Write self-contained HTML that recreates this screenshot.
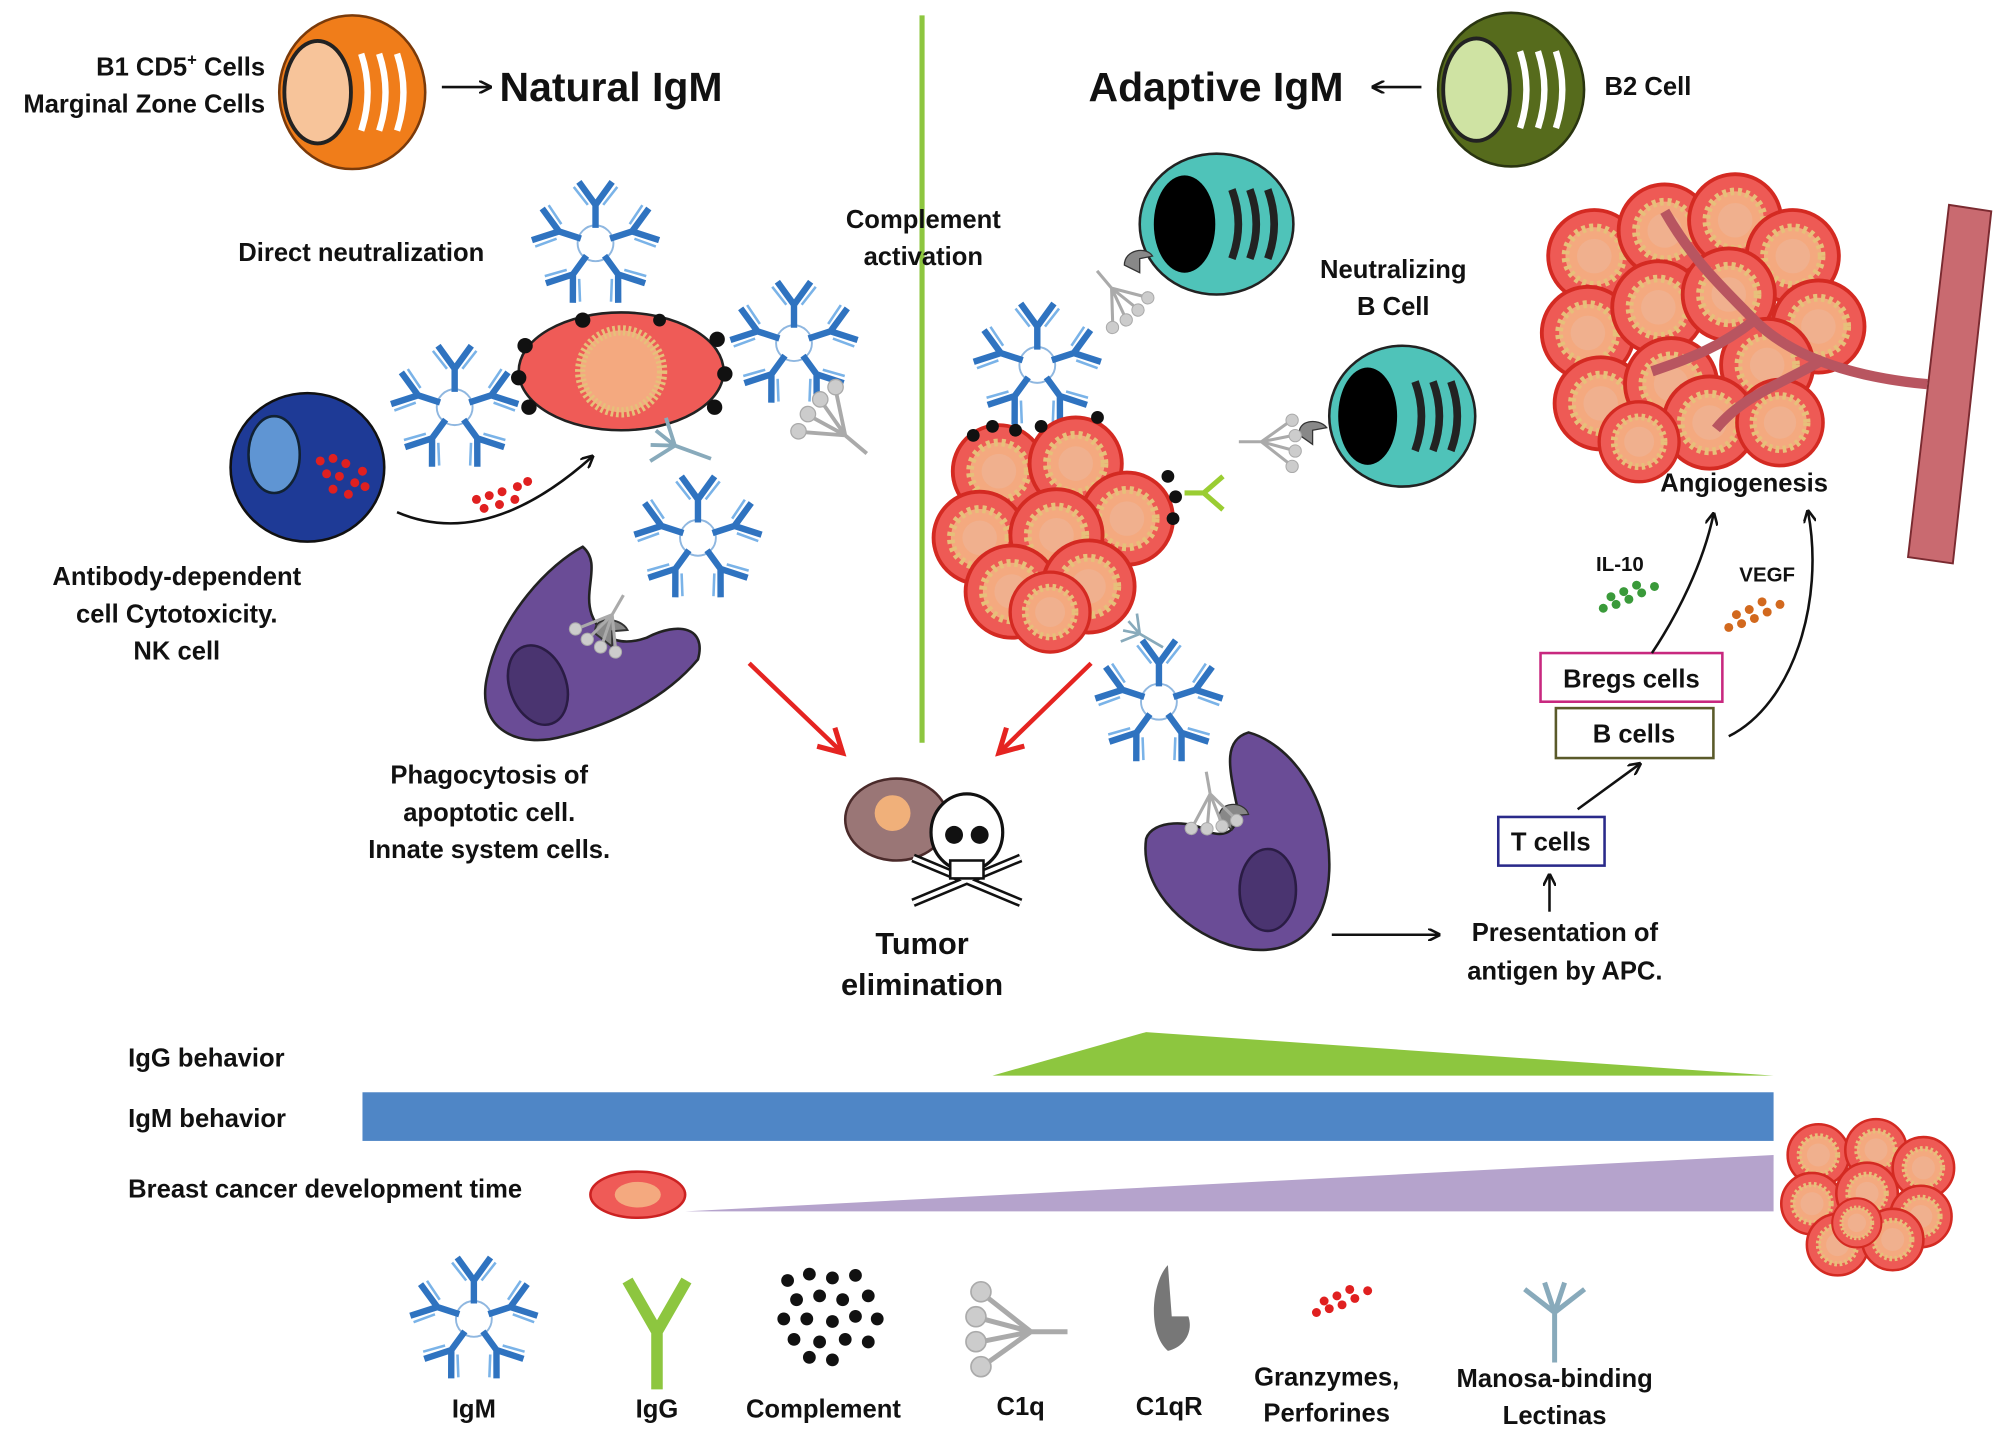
<!DOCTYPE html>
<html><head><meta charset="utf-8"><style>
html,body{margin:0;padding:0;background:#fff;}
svg{display:block;}
text{font-family:"Liberation Sans",sans-serif;font-weight:bold;fill:#111;}
</style></head><body>
<svg width="2008" height="1438" viewBox="0 0 1568 1123" xmlns="http://www.w3.org/2000/svg">
<defs>
<marker id="ah" markerWidth="10" markerHeight="10" refX="8" refY="5" orient="auto" markerUnits="userSpaceOnUse"><path d="M0,0 L10,5 L0,10" fill="none" stroke="#111" stroke-width="2"/></marker>
<marker id="ahr" markerWidth="24" markerHeight="24" refX="20" refY="12" orient="auto" markerUnits="userSpaceOnUse"><path d="M2,2 L20,12 L2,22" fill="none" stroke="#e52421" stroke-width="4"/></marker>
<g id="ab">
<path d="M0,-12 V-30 M0,-30 L-13,-48 M0,-30 L13,-48" stroke="#2f73c0" stroke-width="5" fill="none"/>
<path d="M-6,-30 L-17,-44 M6,-30 L17,-44" stroke="#7ab3e8" stroke-width="2" fill="none"/>
</g>
<g id="igm">
<circle r="14" fill="none" stroke="#8fb7e0" stroke-width="1.5"/>
<use href="#ab"/><use href="#ab" transform="rotate(72)"/><use href="#ab" transform="rotate(144)"/><use href="#ab" transform="rotate(216)"/><use href="#ab" transform="rotate(288)"/>
</g>
<g id="rc">
<circle r="24" fill="#ee5a55" stroke="#d42a22" stroke-width="2"/>
<circle r="15" fill="#f4a97f" stroke="#e6c07a" stroke-width="4" stroke-dasharray="2 2"/>
<circle r="9" fill="#f0b08e"/>
</g>
<g id="c1q" stroke="#aaa" fill="#ccc">
<path d="M0,0 L-28,-22 M0,0 L-30,-8 M0,0 L-30,6 M0,0 L-28,20 M0,0 L22,0" stroke-width="3"/>
<circle cx="-30" cy="-24" r="6"/><circle cx="-33" cy="-9" r="6"/><circle cx="-33" cy="6" r="6"/><circle cx="-30" cy="21" r="6"/>
</g>
<g id="mbl" stroke="#8ab" fill="none" stroke-width="3">
<path d="M0,30 V0 M0,0 L-18,-14 M0,0 L-6,-18 M0,0 L6,-18 M0,0 L18,-14"/>
</g>
</defs>

<!-- divider -->
<line x1="720" y1="12" x2="720" y2="580" stroke="#8dc63f" stroke-width="4"/>

<!-- top left -->
<text x="207" y="59" font-size="20" text-anchor="end">B1 CD5<tspan font-size="13" dy="-8">+</tspan><tspan dy="8"> Cells</tspan></text>
<text x="207" y="88" font-size="20" text-anchor="end">Marginal Zone Cells</text>
<ellipse cx="275" cy="72" rx="57" ry="60" fill="#f07d1a" stroke="#7a3a0a" stroke-width="2"/>
<ellipse cx="248" cy="72" rx="26" ry="40" fill="#f7c49a" stroke="#222" stroke-width="3"/>
<path d="M282,42 Q292,72 282,102 M296,42 Q306,72 296,102 M310,42 Q320,72 310,102" stroke="#fff" stroke-width="5" fill="none"/>
<line x1="345" y1="68" x2="382" y2="68" stroke="#111" stroke-width="2" marker-end="url(#ah)"/>
<text x="390" y="79" font-size="32">Natural IgM</text>

<!-- top right -->
<text x="850" y="79" font-size="32">Adaptive IgM</text>
<line x1="1110" y1="68" x2="1073" y2="68" stroke="#111" stroke-width="2" marker-end="url(#ah)"/>
<ellipse cx="1180" cy="70" rx="57" ry="60" fill="#566b1c" stroke="#2a3510" stroke-width="2"/>
<ellipse cx="1153" cy="70" rx="26" ry="40" fill="#cfe3a3" stroke="#222" stroke-width="3"/>
<path d="M1187,40 Q1197,70 1187,100 M1201,40 Q1211,70 1201,100 M1215,40 Q1225,70 1215,100" stroke="#fff" stroke-width="5" fill="none"/>
<text x="1253" y="74" font-size="20">B2 Cell</text>

<text x="186" y="204" font-size="20">Direct neutralization</text>
<text x="721" y="178" font-size="20" text-anchor="middle">Complement</text>
<text x="721" y="207" font-size="20" text-anchor="middle">activation</text>

<!-- left tumor cell -->
<ellipse cx="485" cy="290" rx="80" ry="46" fill="#ef5b57" stroke="#222" stroke-width="2"/>
<circle cx="485" cy="290" r="32" fill="#f4a97f" stroke="#e6c07a" stroke-width="8" stroke-dasharray="2 2"/>
<g fill="#111"><circle cx="410" cy="270" r="6"/><circle cx="405" cy="295" r="6"/><circle cx="413" cy="318" r="6"/><circle cx="560" cy="265" r="6"/><circle cx="566" cy="292" r="6"/><circle cx="558" cy="318" r="6"/><circle cx="455" cy="250" r="6"/><circle cx="515" cy="250" r="5"/></g>
<use href="#igm" x="465" y="190"/>
<use href="#igm" x="355" y="318"/>
<use href="#igm" x="620" y="268"/>
<use href="#igm" x="545" y="420"/>
<use href="#c1q" transform="translate(660,340) rotate(40)"/>
<use href="#mbl" transform="translate(527,348) rotate(-70)"/>

<!-- NK -->
<ellipse cx="240" cy="365" rx="60" ry="58" fill="#1e3a96" stroke="#111" stroke-width="2"/>
<ellipse cx="214" cy="355" rx="20" ry="30" fill="#5f95d3" stroke="#123" stroke-width="2"/>
<g fill="#e02020"><circle cx="250" cy="360" r="3.5"/><circle cx="260" cy="358" r="3.5"/><circle cx="270" cy="362" r="3.5"/><circle cx="283" cy="368" r="3.5"/><circle cx="255" cy="370" r="3.5"/><circle cx="265" cy="372" r="3.5"/><circle cx="277" cy="377" r="3.5"/><circle cx="260" cy="382" r="3.5"/><circle cx="272" cy="386" r="3.5"/><circle cx="285" cy="380" r="3.5"/>
<circle cx="372" cy="390" r="3.5"/><circle cx="382" cy="387" r="3.5"/><circle cx="392" cy="384" r="3.5"/><circle cx="404" cy="380" r="3.5"/><circle cx="378" cy="397" r="3.5"/><circle cx="390" cy="394" r="3.5"/><circle cx="402" cy="390" r="3.5"/><circle cx="412" cy="376" r="3.5"/></g>
<path d="M310,400 Q380,430 462,357" fill="none" stroke="#111" stroke-width="2" marker-end="url(#ah)"/>
<text x="138" y="457" font-size="20" text-anchor="middle">Antibody-dependent</text>
<text x="138" y="486" font-size="20" text-anchor="middle">cell Cytotoxicity.</text>
<text x="138" y="515" font-size="20" text-anchor="middle">NK cell</text>

<!-- left macrophage -->
<path d="M455,427 C430,440 390,480 380,530 C372,570 405,585 440,575 C480,565 520,545 545,515 C552,490 530,485 505,498 C485,505 470,500 462,480 C455,460 470,440 455,427 Z" fill="#6a4c96" stroke="#222" stroke-width="2"/>
<ellipse cx="420" cy="535" rx="22" ry="32" transform="rotate(-20 420 535)" fill="#4a3470" stroke="#2a1c44" stroke-width="2"/>
<path d="M465,495 C462,480 485,482 490,492 L478,493 L478,505 Z" fill="#888" stroke="#333" stroke-width="1.5"/>
<use href="#c1q" transform="translate(478,480) rotate(-60) scale(0.8)"/>
<text x="382" y="612" font-size="20" text-anchor="middle">Phagocytosis of</text>
<text x="382" y="641" font-size="20" text-anchor="middle">apoptotic cell.</text>
<text x="382" y="670" font-size="20" text-anchor="middle">Innate system cells.</text>

<!-- red arrows -->
<line x1="585" y1="518" x2="658" y2="588" stroke="#e52421" stroke-width="3.5" marker-end="url(#ahr)"/>
<line x1="852" y1="518" x2="780" y2="588" stroke="#e52421" stroke-width="3.5" marker-end="url(#ahr)"/>

<!-- tumor elimination -->
<ellipse cx="700" cy="640" rx="40" ry="32" fill="#9a7676" stroke="#4a2a2a" stroke-width="2"/>
<circle cx="697" cy="635" r="14" fill="#f0b07a"/>
<ellipse cx="755" cy="650" rx="28" ry="30" fill="#fff" stroke="#111" stroke-width="2.5"/>
<circle cx="745" cy="652" r="7" fill="#111"/><circle cx="765" cy="652" r="7" fill="#111"/>
<path d="M713,670 L797,705 M797,670 L713,705" stroke="#111" stroke-width="7"/>
<path d="M713,670 L797,705 M797,670 L713,705" stroke="#fff" stroke-width="3"/>
<rect x="742" y="672" width="26" height="14" fill="#fff" stroke="#111" stroke-width="2"/>
<text x="720" y="745" font-size="24" text-anchor="middle">Tumor</text>
<text x="720" y="777" font-size="24" text-anchor="middle">elimination</text>

<!-- teal B cells -->
<ellipse cx="950" cy="175" rx="60" ry="55" fill="#4fc3b9" stroke="#222" stroke-width="2"/>
<ellipse cx="925" cy="175" rx="24" ry="38" fill="#000"/>
<path d="M962,148 Q972,175 962,202 M976,148 Q986,175 976,202 M990,148 Q1000,175 990,202" stroke="#222" stroke-width="6" fill="none"/>
<ellipse cx="1095" cy="325" rx="57" ry="55" fill="#4fc3b9" stroke="#222" stroke-width="2"/>
<ellipse cx="1068" cy="325" rx="23" ry="38" fill="#000"/>
<path d="M1105,298 Q1115,325 1105,352 M1119,298 Q1129,325 1119,352 M1133,298 Q1143,325 1133,352" stroke="#222" stroke-width="6" fill="none"/>
<path d="M878,207 C878,195 895,192 900,200 L890,202 L890,213 Z" fill="#888" stroke="#333"/>
<use href="#c1q" transform="translate(868,225) rotate(-130) scale(0.8)"/>
<path d="M1015,340 C1012,328 1030,326 1036,334 L1025,336 L1025,347 Z" fill="#888" stroke="#333"/>
<use href="#c1q" transform="translate(985,345) rotate(180) scale(0.8)"/>
<text x="1088" y="217" font-size="20" text-anchor="middle">Neutralizing</text>
<text x="1088" y="246" font-size="20" text-anchor="middle">B Cell</text>
<use href="#igm" x="810" y="285"/>

<!-- right cluster -->
<g transform="translate(0,0)">
<use href="#rc" transform="translate(780,368) scale(1.5)"/>
<use href="#rc" transform="translate(840,362) scale(1.5)"/>
<use href="#rc" transform="translate(765,420) scale(1.5)"/>
<use href="#rc" transform="translate(880,405) scale(1.5)"/>
<use href="#rc" transform="translate(825,418) scale(1.5)"/>
<use href="#rc" transform="translate(790,462) scale(1.5)"/>
<use href="#rc" transform="translate(850,458) scale(1.5)"/>
<use href="#rc" transform="translate(820,478) scale(1.3)"/>
</g>
<g fill="#111"><circle cx="760" cy="340" r="5"/><circle cx="775" cy="333" r="5"/><circle cx="793" cy="336" r="5"/><circle cx="813" cy="333" r="5"/><circle cx="857" cy="326" r="5"/><circle cx="912" cy="372" r="5"/><circle cx="918" cy="388" r="5"/><circle cx="916" cy="405" r="5"/></g>
<path d="M925,385 L940,385 M940,385 L955,372 M940,385 L955,398" stroke="#9acd32" stroke-width="4" fill="none"/>
<use href="#mbl" transform="translate(890,495) rotate(-60) scale(0.7)"/>
<use href="#igm" x="905" y="548"/>

<!-- right macrophage -->
<path d="M975,572 C1005,580 1040,620 1038,680 C1036,735 1000,750 960,738 C920,725 890,690 895,655 C900,640 930,640 945,650 C960,655 970,645 965,625 C960,600 955,578 975,572 Z" fill="#6a4c96" stroke="#222" stroke-width="2"/>
<ellipse cx="990" cy="695" rx="22" ry="32" fill="#4a3470" stroke="#2a1c44" stroke-width="2"/>
<path d="M952,640 C950,625 972,625 975,636 L962,637 L962,648 Z" fill="#888" stroke="#333"/>
<use href="#c1q" transform="translate(945,620) rotate(-100) scale(0.8)"/>
<line x1="1040" y1="730" x2="1123" y2="730" stroke="#111" stroke-width="2" marker-end="url(#ah)"/>
<text x="1222" y="735" font-size="20" text-anchor="middle">Presentation of</text>
<text x="1222" y="765" font-size="20" text-anchor="middle">antigen by APC.</text>

<!-- T/B cells -->
<line x1="1210" y1="712" x2="1210" y2="684" stroke="#111" stroke-width="2" marker-end="url(#ah)"/>
<rect x="1170" y="638" width="83" height="38" fill="#fff" stroke="#2a2a8a" stroke-width="2"/>
<text x="1211" y="664" font-size="20" text-anchor="middle">T cells</text>
<line x1="1232" y1="632" x2="1280" y2="597" stroke="#111" stroke-width="2" marker-end="url(#ah)"/>
<rect x="1215" y="553" width="123" height="39" fill="#fff" stroke="#5a5a2a" stroke-width="2"/>
<text x="1276" y="580" font-size="20" text-anchor="middle">B cells</text>
<rect x="1203" y="510" width="142" height="38" fill="#fff" stroke="#c8287f" stroke-width="2"/>
<text x="1274" y="537" font-size="20" text-anchor="middle">Bregs cells</text>
<path d="M1290,510 C1310,480 1330,440 1338,402" fill="none" stroke="#111" stroke-width="2" marker-end="url(#ah)"/>
<path d="M1350,575 C1400,550 1425,470 1412,400" fill="none" stroke="#111" stroke-width="2" marker-end="url(#ah)"/>
<text x="1265" y="446" font-size="16" text-anchor="middle">IL-10</text>
<g fill="#3a9a3a"><circle cx="1252" cy="475" r="3.5"/><circle cx="1262" cy="472" r="3.5"/><circle cx="1272" cy="468" r="3.5"/><circle cx="1282" cy="463" r="3.5"/><circle cx="1292" cy="458" r="3.5"/><circle cx="1258" cy="466" r="3.5"/><circle cx="1268" cy="462" r="3.5"/><circle cx="1278" cy="457" r="3.5"/></g>
<text x="1380" y="454" font-size="16" text-anchor="middle">VEGF</text>
<g fill="#d2691e"><circle cx="1350" cy="490" r="3.5"/><circle cx="1360" cy="487" r="3.5"/><circle cx="1370" cy="483" r="3.5"/><circle cx="1380" cy="478" r="3.5"/><circle cx="1390" cy="472" r="3.5"/><circle cx="1356" cy="480" r="3.5"/><circle cx="1366" cy="476" r="3.5"/><circle cx="1376" cy="470" r="3.5"/></g>

<!-- angiogenesis -->
<g>
<use href="#rc" transform="translate(1245,200) scale(1.5)"/>
<use href="#rc" transform="translate(1300,180) scale(1.5)"/>
<use href="#rc" transform="translate(1355,172) scale(1.5)"/>
<use href="#rc" transform="translate(1400,200) scale(1.5)"/>
<use href="#rc" transform="translate(1240,260) scale(1.5)"/>
<use href="#rc" transform="translate(1295,240) scale(1.5)"/>
<use href="#rc" transform="translate(1350,230) scale(1.5)"/>
<use href="#rc" transform="translate(1420,255) scale(1.5)"/>
<use href="#rc" transform="translate(1250,315) scale(1.5)"/>
<use href="#rc" transform="translate(1305,300) scale(1.5)"/>
<use href="#rc" transform="translate(1380,285) scale(1.5)"/>
<use href="#rc" transform="translate(1335,330) scale(1.5)"/>
<use href="#rc" transform="translate(1390,330) scale(1.4)"/>
<use href="#rc" transform="translate(1280,345) scale(1.3)"/>
</g>
<path d="M1522,160 L1555,165 L1525,440 L1490,435 Z" fill="#c96a70" stroke="#7a2a30" stroke-width="1.5"/>
<path d="M1505,300 C1450,295 1400,280 1370,250 C1340,220 1320,200 1300,165 M1420,283 C1390,300 1360,310 1340,335 M1370,250 C1345,270 1320,280 1290,290" fill="none" stroke="#b85560" stroke-width="8"/>
<text x="1362" y="384" font-size="20" text-anchor="middle">Angiogenesis</text>

<!-- bottom bars -->
<text x="100" y="833" font-size="20">IgG behavior</text>
<polygon points="775,840 895,806 1385,840" fill="#8dc63f"/>
<text x="100" y="880" font-size="20">IgM behavior</text>
<rect x="283" y="853" width="1102" height="38" fill="#4f86c6"/>
<text x="100" y="935" font-size="20">Breast cancer development time</text>
<ellipse cx="498" cy="933" rx="37" ry="18" fill="#ef5b57" stroke="#c22" stroke-width="2"/>
<ellipse cx="498" cy="933" rx="18" ry="10" fill="#f4a97f"/>
<polygon points="535,946 1385,902 1385,946" fill="#b5a3cc"/>
<g>
<use href="#rc" transform="translate(1420,902)"/>
<use href="#rc" transform="translate(1465,898)"/>
<use href="#rc" transform="translate(1502,912)"/>
<use href="#rc" transform="translate(1415,940)"/>
<use href="#rc" transform="translate(1458,932)"/>
<use href="#rc" transform="translate(1500,950)"/>
<use href="#rc" transform="translate(1435,972)"/>
<use href="#rc" transform="translate(1478,968)"/>
<use href="#rc" transform="translate(1450,955) scale(0.8)"/>
</g>

<!-- legend -->
<use href="#igm" x="370" y="1030"/>
<path d="M513,1085 V1040 M513,1040 L490,1000 M513,1040 L536,1000" stroke="#8dc63f" stroke-width="9" fill="none"/>
<g fill="#111"><circle cx="615" cy="1000" r="5"/><circle cx="632" cy="995" r="5"/><circle cx="650" cy="998" r="5"/><circle cx="668" cy="996" r="5"/><circle cx="622" cy="1015" r="5"/><circle cx="640" cy="1012" r="5"/><circle cx="658" cy="1015" r="5"/><circle cx="678" cy="1012" r="5"/><circle cx="612" cy="1030" r="5"/><circle cx="630" cy="1030" r="5"/><circle cx="650" cy="1032" r="5"/><circle cx="668" cy="1028" r="5"/><circle cx="685" cy="1030" r="5"/><circle cx="620" cy="1046" r="5"/><circle cx="640" cy="1048" r="5"/><circle cx="660" cy="1046" r="5"/><circle cx="678" cy="1048" r="5"/><circle cx="650" cy="1062" r="5"/><circle cx="632" cy="1060" r="5"/></g>
<use href="#c1q" transform="translate(805,1040) scale(1.3)"/>
<path d="M912,988 C900,1000 895,1040 912,1055 C925,1052 932,1040 928,1028 L915,1028 Z" fill="#777"/>
<g fill="#e02020"><circle cx="1028" cy="1025" r="3.5"/><circle cx="1038" cy="1022" r="3.5"/><circle cx="1048" cy="1019" r="3.5"/><circle cx="1058" cy="1014" r="3.5"/><circle cx="1068" cy="1008" r="3.5"/><circle cx="1034" cy="1016" r="3.5"/><circle cx="1044" cy="1012" r="3.5"/><circle cx="1054" cy="1007" r="3.5"/></g>
<use href="#mbl" transform="translate(1214,1025) scale(1.3)"/>
<text x="370" y="1107" font-size="20" text-anchor="middle">IgM</text>
<text x="513" y="1107" font-size="20" text-anchor="middle">IgG</text>
<text x="643" y="1107" font-size="20" text-anchor="middle">Complement</text>
<text x="797" y="1105" font-size="20" text-anchor="middle">C1q</text>
<text x="913" y="1105" font-size="20" text-anchor="middle">C1qR</text>
<text x="1036" y="1082" font-size="20" text-anchor="middle">Granzymes,</text>
<text x="1036" y="1110" font-size="20" text-anchor="middle">Perforines</text>
<text x="1214" y="1083" font-size="20" text-anchor="middle">Manosa-binding</text>
<text x="1214" y="1112" font-size="20" text-anchor="middle">Lectinas</text>
</svg>
</body></html>
